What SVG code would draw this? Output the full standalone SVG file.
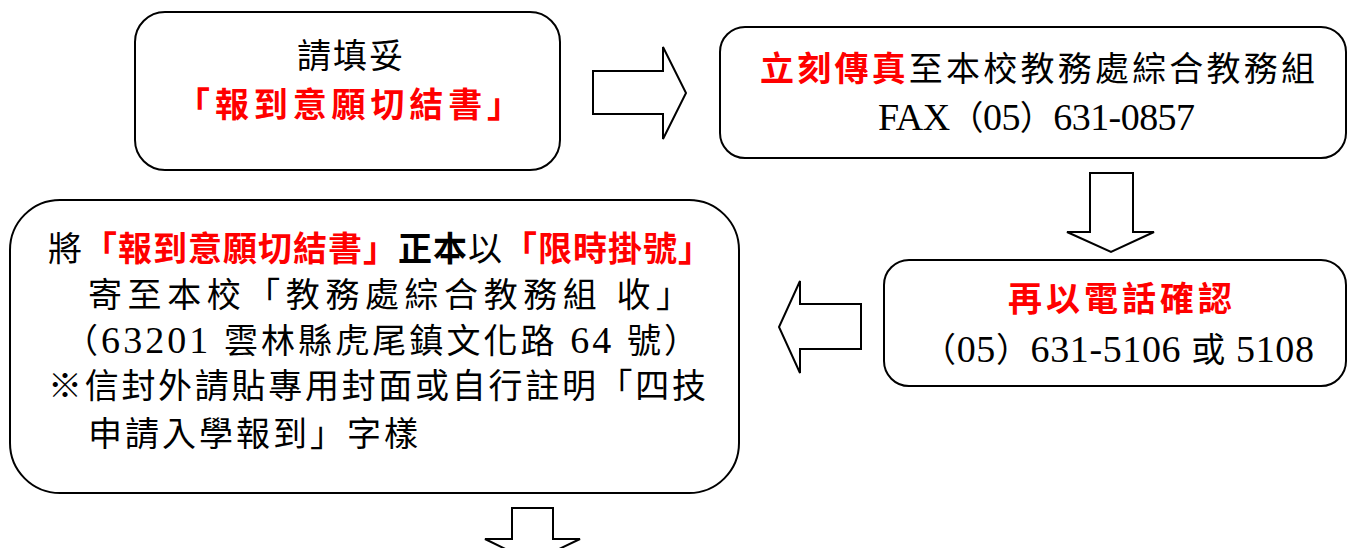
<svg xmlns="http://www.w3.org/2000/svg" width="1347" height="548" viewBox="0 0 1347 548">
<style>
.box{fill:#fff;stroke:#000;stroke-width:2}
.arr{fill:#fff;stroke:#000;stroke-width:2;stroke-linejoin:miter}
text{font-family:'Liberation Serif','Noto Sans CJK TC',serif;font-size:34px;fill:#000}
.red{fill:#ff0000;font-weight:bold}
.b{font-weight:bold}
.lat{font-size:38px}
</style>
<rect width="1347" height="548" fill="#fff"/>
<g id="connectors">
<polygon class="arr" points="593,71 663,71 663,47 686,93 663,139 663,114 593,114"/>
<polygon class="arr" points="1090,173 1133,173 1133,232 1154,232 1111,252 1067,232 1090,232"/>
<polygon class="arr" points="861,304 800,304 800,281 779,327 800,373 800,349 861,349"/>
<polygon class="arr" points="512,508 553,508 553,539 580,539 532,562 485,539 512,539"/>
</g>
<g id="node-fill-form">
<rect class="box" x="135" y="12" width="425" height="158" rx="30"/>
<text x="297" y="68" textLength="106" lengthAdjust="spacing">請填妥</text>
<text x="176" y="117" textLength="345" lengthAdjust="spacing" class="red">「報到意願切結書」</text>
</g>
<g id="node-fax">
<rect class="box" x="720" y="27" width="626" height="131" rx="25"/>
<text x="760" y="81" textLength="555" lengthAdjust="spacing"><tspan class="red">立刻傳真</tspan>至本校教務處綜合教務組</text>
<text x="878" y="130" textLength="317" lengthAdjust="spacing"><tspan class="lat">FAX</tspan>（<tspan class="lat">05</tspan>）<tspan class="lat">631-0857</tspan></text>
</g>
<g id="node-phone">
<rect class="box" x="884" y="260" width="462" height="126" rx="25"/>
<text x="1008" y="311" textLength="224" lengthAdjust="spacing" class="red">再以電話確認</text>
<text x="922" y="362" textLength="392" lengthAdjust="spacing">（<tspan class="lat">05</tspan>）<tspan class="lat">631-5106 </tspan>或<tspan class="lat"> 5108</tspan></text>
</g>
<g id="node-mail">
<rect class="box" x="10" y="200" width="729" height="293" rx="50"/>
<text x="48" y="261" textLength="664" lengthAdjust="spacing">將<tspan class="red">「報到意願切結書」</tspan><tspan class="b">正本</tspan>以<tspan class="red">「限時掛號」</tspan></text>
<text x="88" y="307" textLength="602" lengthAdjust="spacing">寄至本校「教務處綜合教務組 收」</text>
<text x="64" y="353" textLength="634" lengthAdjust="spacing">（<tspan class="lat">63201 </tspan>雲林縣虎尾鎮文化路<tspan class="lat"> 64 </tspan>號）</text>
<text x="48" y="398" textLength="658" lengthAdjust="spacing">※信封外請貼專用封面或自行註明「四技</text>
<text x="88" y="446" textLength="330" lengthAdjust="spacing">申請入學報到」字樣</text>
</g>
</svg>
